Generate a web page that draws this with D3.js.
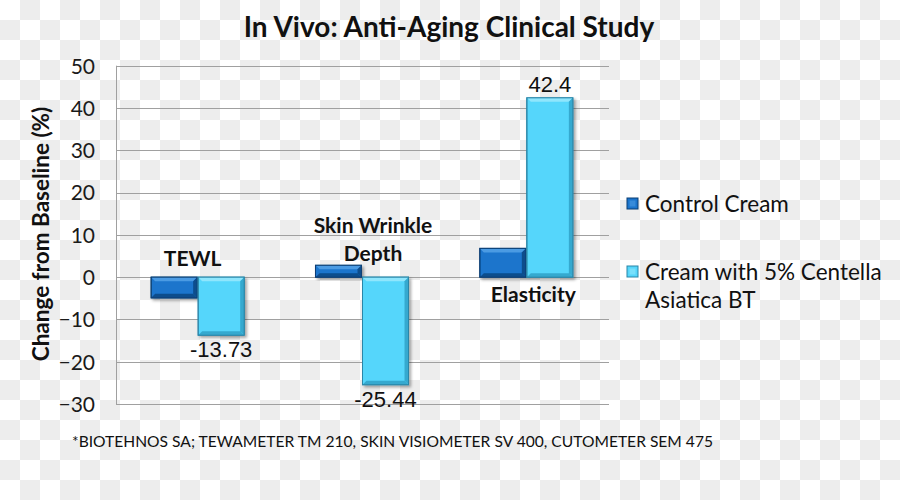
<!DOCTYPE html>
<html><head><meta charset="utf-8">
<script src="https://cdn.jsdelivr.net/npm/d3@7"></script>
<style>body{margin:0;}svg{display:block;}</style>
</head><body>
<svg id="c" width="900" height="500"></svg>
<script>
const categories = ["TEWL", "Skin Wrinkle Depth", "Elasticity"];
const seriesNames = ["Control Cream", "Cream with 5% Centella Asiatica BT"];
const controlValues = [-4.9, 2.8, 6.8];
const centellaValues = [-13.73, -25.44, 42.4];
const valueLabels = ["-13.73", "-25.44", "42.4"];
const yTicks = [50, 40, 30, 20, 10, 0, -10, -20, -30];

(function(){
const svg = d3.select("#c");
const W = 900, H = 500;

// checkerboard background
const defs = svg.append("defs");
const pat = defs.append("pattern").attr("id","chk").attr("width",40).attr("height",40).attr("patternUnits","userSpaceOnUse");
pat.append("rect").attr("width",40).attr("height",40).attr("fill","#ffffff");
pat.append("rect").attr("x",20).attr("y",0).attr("width",20).attr("height",20).attr("fill","#ededed");
pat.append("rect").attr("x",0).attr("y",20).attr("width",20).attr("height",20).attr("fill","#ededed");
svg.append("rect").attr("width",W).attr("height",H).attr("fill","url(#chk)");

const sh = defs.append("filter").attr("id","sh").attr("x","-20%").attr("y","-20%").attr("width","150%").attr("height","150%");
sh.append("feDropShadow").attr("dx",2).attr("dy",2).attr("stdDeviation",1.5).attr("flood-color","#000").attr("flood-opacity",0.35);

const pl = 116, pr = 609, pt = 65.7, pb = 404;
const y = d3.scaleLinear().domain([-30, 50]).range([pb, pt]);
const x0 = d3.scaleBand().domain(categories).range([pl, pr]).paddingInner(0.44).paddingOuter(0.22);
const x1 = d3.scaleBand().domain(seriesNames).range([0, x0.bandwidth()]);

// gridlines
svg.append("g").selectAll("line").data(yTicks).join("line")
  .attr("x1", pl).attr("x2", pr)
  .attr("y1", d => Math.round(y(d))+0.5).attr("y2", d => Math.round(y(d))+0.5)
  .attr("stroke", "#a0a0a0").attr("stroke-width", 1);
svg.append("line").attr("x1", pl+0.5).attr("x2", pl+0.5).attr("y1", y(50)).attr("y2", y(-30)+0.5)
  .attr("stroke", "#a0a0a0");

// y axis
const yAxis = d3.axisLeft(y).tickValues(yTicks).tickSize(0).tickPadding(21).tickFormat(d3.format("d"));
const ga = svg.append("g").attr("transform", `translate(${pl},0)`).call(yAxis);
ga.select(".domain").remove();
ga.selectAll("text").attr("font-family", "Lato").attr("font-size", 21).attr("fill", "#1a1a1a").attr("dy","0.35em");

// bars with bevel
const colors = [
  {main:"#1b74cc", light:"#4b9be3", dark:"#0f4d8c", edge:"#0b3f75"},
  {main:"#55d6fb", light:"#8fe6fd", dark:"#36a9cf", edge:"#2a86a8"}
];
function bar(g, bx, bw, v, c) {
  const ya = y(Math.max(0, v)), yb = y(Math.min(0, v));
  const h = yb - ya, b = Math.min(4, h/2);
  const grp = g.append("g").attr("filter","url(#sh)");
  grp.append("rect").attr("x", bx).attr("y", ya).attr("width", bw).attr("height", h).attr("fill", c.main).attr("stroke", c.edge).attr("stroke-width", 1);
  grp.append("path").attr("d", `M${bx},${ya}L${bx+bw},${ya}L${bx+bw-b},${ya+b}L${bx+b},${ya+b}Z`).attr("fill", c.light);
  grp.append("path").attr("d", `M${bx+bw},${ya}L${bx+bw},${yb}L${bx+bw-b},${yb-b}L${bx+bw-b},${ya+b}Z`).attr("fill", c.dark);
  grp.append("path").attr("d", `M${bx},${yb}L${bx+bw},${yb}L${bx+bw-b},${yb-b}L${bx+b},${yb-b}Z`).attr("fill", c.dark);
  grp.append("rect").attr("x", bx).attr("y", ya).attr("width", bw).attr("height", h).attr("fill", "none").attr("stroke", c.edge).attr("stroke-width", 1);
}
const bg = svg.append("g");
categories.forEach((cat, i) => {
  bar(bg, x0(cat) + x1(seriesNames[0]) - 1, x1.bandwidth(), controlValues[i], colors[0]);
  bar(bg, x0(cat) + x1(seriesNames[1]), x1.bandwidth(), centellaValues[i], colors[1]);
});

// value labels
svg.append("g").selectAll("text").data(categories).join("text")
  .attr("x", (d) => x0(d) + x1(seriesNames[1]) + x1.bandwidth()/2)
  .attr("y", (d,i) => centellaValues[i] < 0 ? y(centellaValues[i]) + 22 : y(centellaValues[i]) - 6)
  .attr("text-anchor", "middle").attr("font-family", "Liberation Sans, Arial").attr("font-size", 22).attr("fill", "#111")
  .text((d,i) => valueLabels[i]);

// category labels
const catLab = [
  {lines:["TEWL"], ys:[266], dx:-5.5},
  {lines:["Skin Wrinkle","Depth"], ys:[233, 261], dx:10.5},
  {lines:["Elasticity"], ys:[302], dx:6.5}
];
categories.forEach((cat, i) => {
  catLab[i].lines.forEach((ln, j) => {
    svg.append("text").attr("x", x0(cat) + x0.bandwidth()/2 + catLab[i].dx)
      .attr("y", catLab[i].ys[j]).attr("text-anchor","middle")
      .attr("font-family","Lato").attr("font-weight","bold").attr("font-size",21).attr("fill","#111").text(ln);
  });
});

// title
svg.append("text").attr("x", 449).attr("y", 37).attr("text-anchor","middle")
  .attr("font-family","Lato").attr("font-weight","bold").attr("font-size",28).attr("fill","#111")
  .text("In Vivo: Anti-Aging Clinical Study");

// y axis title
svg.append("text").attr("transform","translate(49,234) rotate(-90)").attr("text-anchor","middle")
  .attr("font-family","Lato").attr("font-weight","bold").attr("font-size",22.5).attr("fill","#111")
  .text("Change from Baseline (%)");

// legend
const leg = [
  {name: seriesNames[0], lines:["Control Cream"], y:204, c:colors[0]},
  {name: seriesNames[1], lines:["Cream with 5% Centella","Asiatica BT"], y:272, c:colors[1]}
];
leg.forEach(l => {
  const g = svg.append("g");
  g.append("rect").attr("x",627).attr("y",l.y-6).attr("width",11).attr("height",11).attr("fill",l.c.main).attr("stroke",l.c.edge);
  g.append("rect").attr("x",629.5).attr("y",l.y-3.5).attr("width",6).attr("height",6).attr("fill",l.c.light).attr("opacity",0.6);
  l.lines.forEach((t,j) => g.append("text").attr("x",645).attr("y",l.y + 8 + j*28)
    .attr("font-family","Lato").attr("font-size",22.5).attr("fill","#111").text(t));
});

// footnote
svg.append("text").attr("x",72).attr("y",447)
  .attr("font-family","Lato").attr("font-size",16).attr("fill","#111")
  .attr("textLength", 641).attr("lengthAdjust","spacingAndGlyphs")
  .text("*BIOTEHNOS SA; TEWAMETER TM 210, SKIN VISIOMETER SV 400, CUTOMETER SEM 475");
})();
</script>
</body></html>
